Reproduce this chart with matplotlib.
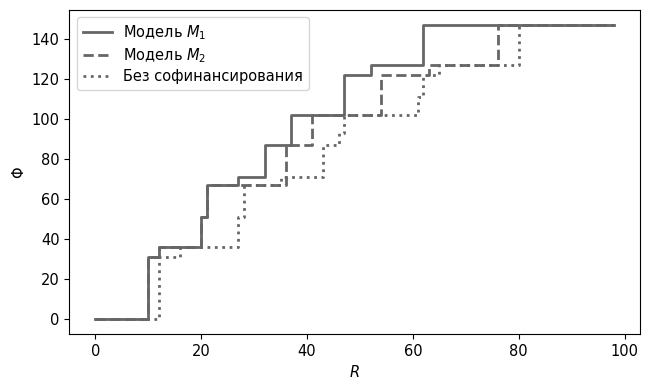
import matplotlib
matplotlib.use("Agg")
import matplotlib.pyplot as plt

# Data (step functions, where='post')
r_m1 = [0, 10, 12, 20, 21, 27, 32, 37, 47, 52, 62, 98]
phi_m1 = [0, 31, 36, 51, 67, 71, 87, 102, 122, 127, 147, 147]

r_m2 = [0, 10, 12, 20, 21, 36, 41, 54, 63, 76, 98]
phi_m2 = [0, 31, 36, 51, 67, 87, 102, 122, 127, 147, 147]

r_none = [0, 12, 16, 27, 28, 35, 43, 46, 47, 61, 62, 65, 80, 98]
phi_none = [0, 31, 36, 51, 67, 71, 87, 93, 102, 111, 122, 127, 147, 147]

labels = ["Модель $M_1$", "Модель $M_2$", "Без софинансирования"]

color = "#666666"

fig = plt.figure(figsize=(6.49, 3.89), dpi=100)
ax = fig.add_axes([0.107, 0.141, 0.879, 0.833])

ax.step(r_m1, phi_m1, where="post", color=color, lw=2, ls="-", label=labels[0])
ax.step(r_m2, phi_m2, where="post", color=color, lw=2, ls="--", label=labels[1])
ax.step(r_none, phi_none, where="post", color=color, lw=2, ls=":", label=labels[2])

ax.set_xlabel("$R$", fontsize=10.5)
ax.set_ylabel("Φ", fontsize=10.5)
ax.set_xticks([0, 20, 40, 60, 80, 100])
ax.set_yticks([0, 20, 40, 60, 80, 100, 120, 140])
ax.tick_params(labelsize=10.5)
ax.legend(loc="upper left", fontsize=10.5, labelspacing=0.3)

fig.savefig("out.png", dpi=100)
